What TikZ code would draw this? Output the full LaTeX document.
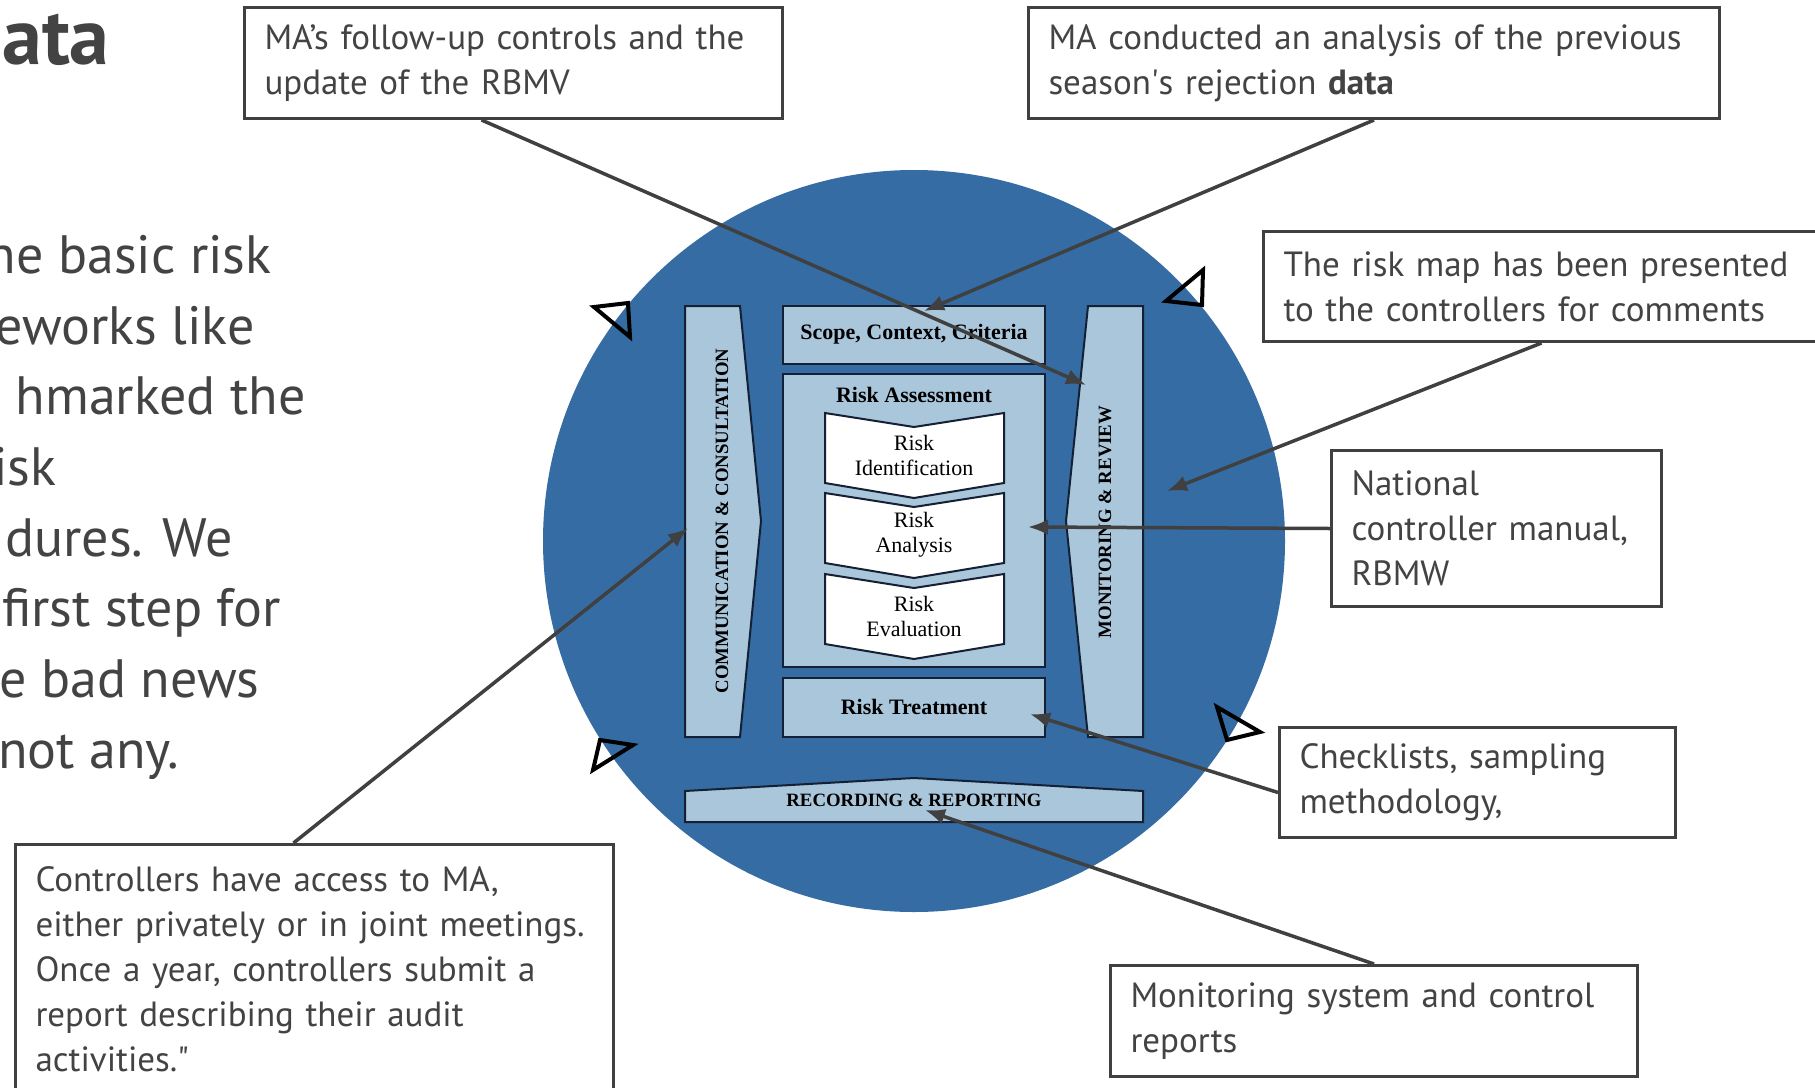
\documentclass[tikz,border=0pt]{standalone}
\usepackage{fontspec}
\setmainfont{PT Sans}
\newfontfamily\isofont{Liberation Serif}
\usetikzlibrary{arrows.meta}

\definecolor{circblue}{RGB}{53,108,164}
\definecolor{barblue}{RGB}{169,198,219}
\definecolor{barline}{RGB}{22,32,52}
\definecolor{inkgray}{RGB}{64,64,64}
\definecolor{txtgray}{RGB}{67,67,67}

\tikzset{
 note/.style={draw=inkgray, line width=1.5pt, fill=white, text=txtgray, align=left, anchor=north west,
   inner xsep=10pt, inner ysep=0pt, font=\fontsize{17.5}{22.5}\selectfont},
 bar/.style={draw=barline, line width=1pt, fill=barblue},
 chev/.style={draw=barline, line width=1pt, fill=white},
 pointer/.style={draw=inkgray, line width=1.75pt, -{Latex[length=10pt,width=8pt]}},
 marker/.style={draw=black, line width=2pt, line join=miter},
 body/.style={text=txtgray, anchor=base east, inner sep=0pt, font=\fontsize{27}{35}\selectfont},
 boldlbl/.style={font=\isofont\fontsize{11}{12}\selectfont\bfseries},
 capslbl/.style={font=\isofont\fontsize{9.4}{10}\selectfont\bfseries},
 steplbl/.style={font=\isofont\fontsize{11}{12.5}\selectfont, align=center},
}

\begin{document}
\begin{tikzpicture}[x=0.5pt,y=-0.5pt]
 \useasboundingbox (0,0) rectangle (1815,1087);
 \fill[white] (0,0) rectangle (1815,1087);

 % slide text
 \node[text=txtgray, anchor=base east, inner sep=0pt, font=\fontsize{40}{40}\selectfont\bfseries] (title) at (110,64) {ata};
 \node[body] (l1) at (272,273) {he basic risk};
 \node[body] (l2) at (255,344) {eworks like};
 \node[body] (l3) at (306,414) {hmarked the};
 \node[body] (l4) at (57,485) {isk};
 \node[body] (l5) at (233,556) {dures. We};
 \node[body] (l6) at (281,626) {first step for};
 \node[body] (l7) at (260,697) {e bad news};
 \node[body] (l8) at (179,768) {not any.};

 % risk management process
 \fill[circblue] (914,541) circle[radius=185.5pt];
 \draw[marker] (594,307) -- (628,303) -- (630,337) -- cycle;
 \draw[marker] (1203,270) -- (1202,305) -- (1166,301) -- cycle;
 \draw[marker] (600,740) -- (633,745) -- (593,770) -- cycle;
 \draw[marker] (1217,707) -- (1260,732) -- (1227,740) -- cycle;

 \draw[bar] (685,306) -- (740,306) -- (761,521) -- (740,737) -- (685,737) -- cycle;
 \draw[bar] (1088,306) -- (1143,306) -- (1143,737) -- (1088,737) -- (1066,521) -- cycle;
 \draw[bar] (783,306) rectangle (1045,364);
 \draw[bar] (783,374) rectangle (1045,667);
 \draw[bar] (783,678) rectangle (1045,737);
 \draw[bar] (685,791) -- (914,778) -- (1143,791) -- (1143,822) -- (685,822) -- cycle;

 \draw[chev] (825,413) -- (914,427) -- (1004,413) -- (1004,483) -- (914,498) -- (825,483) -- cycle;
 \draw[chev] (825,493) -- (914,507) -- (1004,493) -- (1004,563) -- (914,578) -- (825,563) -- cycle;
 \draw[chev] (825,574) -- (914,588) -- (1004,574) -- (1004,644) -- (914,659) -- (825,644) -- cycle;

 \node[boldlbl] (scope) at (914,334) {Scope, Context, Criteria};
 \node[boldlbl] (assess) at (914,395) {Risk Assessment};
 \node[steplbl] (ident) at (914,455) {Risk\\Identification};
 \node[steplbl] (analysis) at (914,535) {Risk\\Analysis};
 \node[steplbl] (evaluation) at (914,616) {Risk\\Evaluation};
 \node[boldlbl] (treat) at (914,707) {Risk Treatment};
 \node[capslbl] (record) at (914,800) {RECORDING \& REPORTING};
 \node[capslbl, rotate=90] (comm) at (722,521) {COMMUNICATION \& CONSULTATION};
 \node[capslbl, rotate=90] (monit) at (1105,522) {MONITORING \& REVIEW};

 % callouts
 \node[note, text width=249pt, minimum height=55.5pt] (follow) at (243,6) {MA’s follow-up controls and the\\update of the RBMV};
 \node[note, text width=325.5pt, minimum height=55.5pt] (season) at (1027,6) {MA conducted an analysis of the previous\\season\textquotesingle s rejection \textbf{data}};
 \node[note, text width=264pt, minimum height=55pt] (riskmap) at (1262,230) {The risk map has been presented\\to the controllers for comments};
 \node[note, text width=145pt, minimum height=78pt] (manual) at (1330,449) {National\\controller manual,\\RBMW};
 \node[note, text width=178pt, minimum height=55pt] (checks) at (1278,726) {Checklists, sampling\\methodology,};
 \node[note, text width=243.5pt, minimum height=55.5pt] (monsys) at (1109,964) {Monitoring system and control\\reports};
 \node[note, text width=279pt, minimum height=125pt] (access) at (14,843) {Controllers have access to MA,\\either privately or in joint meetings.\\Once a year, controllers submit a\\report describing their audit\\activities.\textquotedbl};

 \coordinate (tipMon) at (1086,385);
 \coordinate (tipScope) at (924,311);
 \coordinate (tipCircle) at (1167,491);
 \coordinate (tipAssess) at (1028,527);
 \coordinate (tipTreat) at (1030,714);
 \coordinate (tipRecord) at (925,810);
 \coordinate (tipComm) at (688,528);

 \draw[pointer] ([xshift=-16pt]follow.south) -- (tipMon);
 \draw[pointer] (season.south) -- (tipScope);
 \draw[pointer] ([xshift=-3pt]riskmap.south) -- (tipCircle);
 \draw[pointer] (manual.west) -- (tipAssess);
 \draw[pointer] ([yshift=-5pt]checks.west) -- (tipTreat);
 \draw[pointer] (monsys.north) -- (tipRecord);
 \draw[pointer] ([xshift=-10.5pt]access.north) -- (tipComm);
\end{tikzpicture}
\end{document}
